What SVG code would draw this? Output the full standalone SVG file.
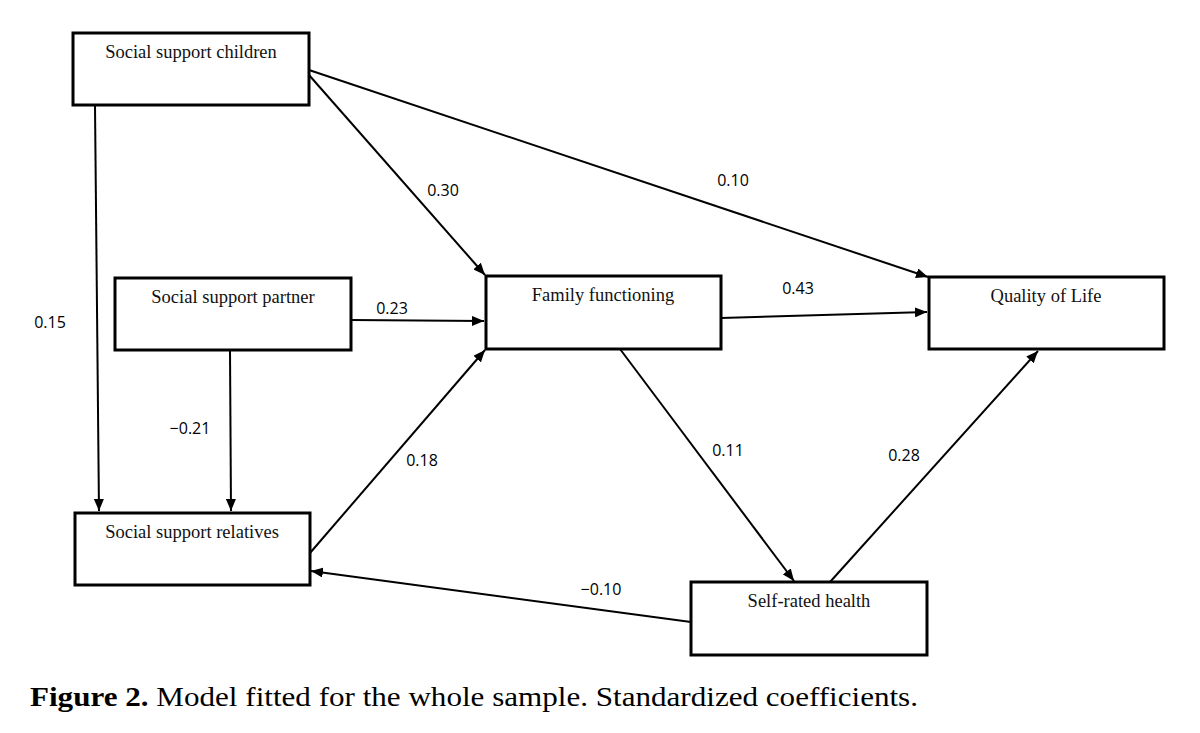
<svg xmlns="http://www.w3.org/2000/svg" width="1200" height="733" viewBox="0 0 1200 733">
<style>
.box{fill:#fff;stroke:#000;stroke-width:3}
.nt{font-family:"Liberation Serif","Times New Roman",serif;font-size:18.5px;fill:#111;text-anchor:middle}
.lb{font-family:"Open Sans","Liberation Sans",sans-serif;font-size:16px;fill:#000;text-anchor:middle}
.ed{stroke:#000;stroke-width:2;fill:none;marker-end:url(#ah)}
.cap{font-family:"Liberation Serif","Times New Roman",serif;font-size:27px;fill:#000}
</style>
<defs>
<marker id="ah" viewBox="0 0 12 10" refX="12" refY="5" markerWidth="12" markerHeight="10" markerUnits="userSpaceOnUse" orient="auto">
<path d="M0,0 L12,5 L0,10 Z" fill="#000"/>
</marker>
</defs>
<rect width="1200" height="733" fill="#fff"/>
<g id="connectors">
<line class="ed" x1="95" y1="106" x2="99" y2="511"/>
<line class="ed" x1="230" y1="350" x2="231" y2="511"/>
<line class="ed" x1="309" y1="75" x2="485" y2="275"/>
<line class="ed" x1="309" y1="70" x2="928" y2="277"/>
<line class="ed" x1="351" y1="320" x2="484" y2="321"/>
<line class="ed" x1="310" y1="553" x2="485" y2="350"/>
<line class="ed" x1="721" y1="318" x2="927" y2="312"/>
<line class="ed" x1="620" y1="349" x2="794" y2="581"/>
<line class="ed" x1="830" y1="582" x2="1038" y2="351"/>
<line class="ed" x1="691" y1="622" x2="311" y2="571"/>
</g>
<g id="labels">
<text class="lb" x="443" y="196">0.30</text>
<text class="lb" x="733" y="186">0.10</text>
<text class="lb" x="50" y="328">0.15</text>
<text class="lb" x="392" y="314">0.23</text>
<text class="lb" x="798" y="294">0.43</text>
<text class="lb" x="190" y="434">−0.21</text>
<text class="lb" x="422" y="466">0.18</text>
<text class="lb" x="728" y="456">0.11</text>
<text class="lb" x="904" y="461">0.28</text>
<text class="lb" x="601" y="595">−0.10</text>
</g>
<g id="node-children">
<rect class="box" x="73" y="33" width="236" height="72"/>
<text class="nt" x="191" y="58">Social support children</text>
</g>
<g id="node-partner">
<rect class="box" x="115" y="278" width="236" height="72"/>
<text class="nt" x="233" y="303">Social support partner</text>
</g>
<g id="node-family">
<rect class="box" x="486" y="276" width="235" height="73"/>
<text class="nt" x="603" y="301">Family functioning</text>
</g>
<g id="node-qol">
<rect class="box" x="929" y="277" width="235" height="72"/>
<text class="nt" x="1046" y="302">Quality of Life</text>
</g>
<g id="node-relatives">
<rect class="box" x="75" y="513" width="235" height="72"/>
<text class="nt" x="192" y="538">Social support relatives</text>
</g>
<g id="node-health">
<rect class="box" x="691" y="582" width="236" height="73"/>
<text class="nt" x="809" y="607">Self-rated health</text>
</g>
<text class="cap" x="30" y="706" textLength="888" lengthAdjust="spacingAndGlyphs"><tspan font-weight="bold">Figure 2.</tspan> Model fitted for the whole sample. Standardized coefficients.</text>
</svg>
